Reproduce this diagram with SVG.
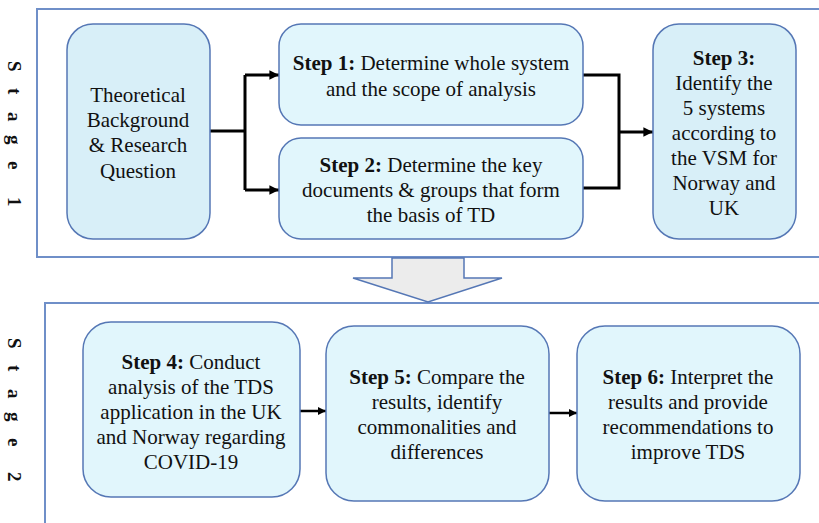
<svg xmlns="http://www.w3.org/2000/svg" width="819" height="523" viewBox="0 0 819 523" font-family="Liberation Serif, Times New Roman, Times, serif">
<style>
.frame{fill:none;stroke:#6f8fc8;stroke-width:2}
.box{fill:#e1f6fc;stroke:#5577b5;stroke-width:1.5}
.box2{fill:#d8eff8;stroke:#5577b5;stroke-width:1.5}
.t{font-family:'Liberation Serif','Times New Roman',serif;font-size:21px;fill:#111;text-anchor:middle}
.b{font-weight:bold}
.stg{font-family:'Liberation Serif','Times New Roman',serif;font-size:19px;font-weight:bold;fill:#111}
.ln{fill:none;stroke:#000;stroke-width:3}
.ln2{fill:none;stroke:#000;stroke-width:2.5}
</style>
<defs>
<marker id="ah" viewBox="0 0 10 10" refX="10" refY="5" markerWidth="3.2" markerHeight="3.2" orient="auto" markerUnits="strokeWidth">
<path d="M0,0 L10,5 L0,10 z" fill="#000"/>
</marker>
</defs>
<rect width="819" height="523" fill="#fff"/>

<g id="stage1">
<rect class="frame" x="37" y="9" width="800" height="248"/>
<text class="stg" transform="translate(8,61) rotate(90)" x="0 27 51 74 100 124 136">Stage 1</text>
</g>
<g id="stage2">
<rect class="frame" x="45" y="303" width="800" height="240"/>
<text class="stg" transform="translate(8,338) rotate(90)" x="0 27 51 74 100 124 134">Stage 2</text>
</g>

<g id="bigarrow">
<path d="M392,258 L464,258 L464,278 L502,278 L428,302 L353,278 L392,278 Z" fill="#ececec" stroke="#5577b5" stroke-width="1.5"/>
</g>

<g id="connectors">
<path class="ln" d="M209,131 H245" stroke-width="4.5"/>
<path class="ln" d="M245,75 V190"/>
<path class="ln" d="M245,75 H279" marker-end="url(#ah)"/>
<path class="ln" d="M245,190 H279" marker-end="url(#ah)"/>
<path class="ln" d="M583,75 H619 V188 H583"/>
<path class="ln" d="M619,132 H653" marker-end="url(#ah)"/>
<path class="ln2" d="M300,411 H326" marker-end="url(#ah)"/>
<path class="ln2" d="M549,413 H577" marker-end="url(#ah)"/>
</g>

<g id="theory">
<rect class="box2" x="67" y="24" width="143" height="215" rx="26"/>
<text class="t" x="138" y="102">Theoretical</text>
<text class="t" x="138" y="127">Background</text>
<text class="t" x="138" y="152">&amp; Research</text>
<text class="t" x="138" y="178">Question</text>
</g>

<g id="step1">
<rect class="box" x="279" y="24" width="304" height="101" rx="22"/>
<text class="t" x="431" y="70"><tspan class="b">Step 1:</tspan> Determine whole system</text>
<text class="t" x="431" y="96">and the scope of analysis</text>
</g>

<g id="step2">
<rect class="box" x="279" y="138" width="304" height="101" rx="22"/>
<text class="t" x="431" y="172"><tspan class="b">Step 2:</tspan> Determine the key</text>
<text class="t" x="431" y="197">documents &amp; groups that form</text>
<text class="t" x="431" y="222">the basis of TD</text>
</g>

<g id="step3">
<rect class="box2" x="653" y="24" width="143" height="215" rx="26"/>
<text class="t b" x="724" y="65">Step 3:</text>
<text class="t" x="724" y="90">Identify the</text>
<text class="t" x="724" y="115">5 systems</text>
<text class="t" x="724" y="140">according to</text>
<text class="t" x="724" y="165">the VSM for</text>
<text class="t" x="724" y="190">Norway and</text>
<text class="t" x="724" y="215">UK</text>
</g>

<g id="step4">
<rect class="box" x="83" y="322" width="217" height="175" rx="28"/>
<text class="t" x="191" y="369"><tspan class="b">Step 4:</tspan> Conduct</text>
<text class="t" x="191" y="394">analysis of the TDS</text>
<text class="t" x="191" y="419">application in the UK</text>
<text class="t" x="191" y="444">and Norway regarding</text>
<text class="t" x="191" y="469">COVID-19</text>
</g>

<g id="step5">
<rect class="box" x="326" y="326" width="223" height="175" rx="28"/>
<text class="t" x="437" y="384"><tspan class="b">Step 5:</tspan> Compare the</text>
<text class="t" x="437" y="409">results, identify</text>
<text class="t" x="437" y="434">commonalities and</text>
<text class="t" x="437" y="459">differences</text>
</g>

<g id="step6">
<rect class="box" x="577" y="326" width="223" height="175" rx="28"/>
<text class="t" x="688" y="384"><tspan class="b">Step 6:</tspan> Interpret the</text>
<text class="t" x="688" y="409">results and provide</text>
<text class="t" x="688" y="434">recommendations to</text>
<text class="t" x="688" y="459">improve TDS</text>
</g>
</svg>
